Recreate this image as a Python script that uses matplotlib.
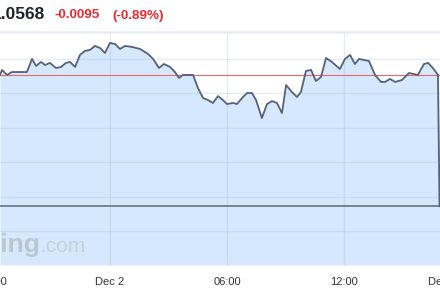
import matplotlib
matplotlib.use('Agg')
import matplotlib.pyplot as plt

plt.rcParams['font.family'] = 'Liberation Sans'

# hours relative to Dec 2 00:00, and price (15-min steps)
hours = [-5.64, -5.54, -5.28, -5.03, -4.26, -4.00, -3.79, -3.54, -3.33, -3.08,
         -2.77, -2.51, -2.26, -2.05, -1.79, -1.54, -1.28, -1.03, -0.77, -0.51,
         -0.26, 0.00, 0.26, 0.51, 0.77, 1.13, 1.54, 1.95, 2.21, 2.51,
         2.77, 3.08, 3.33, 3.54, 3.74, 4.26, 4.51, 4.77, 5.03, 5.28,
         5.54, 5.79, 6.00, 6.31, 6.51, 6.82, 7.03, 7.28, 7.49, 7.79,
         8.05, 8.31, 8.56, 8.82, 9.03, 9.33, 9.59, 9.79, 10.05, 10.31,
         10.56, 10.82, 11.08, 11.38, 11.79, 12.05, 12.31, 12.56, 12.77, 13.28,
         13.59, 13.90, 14.10, 14.36, 14.62, 14.97, 15.33, 15.79, 16.10, 16.31,
         16.56, 16.82, 16.90]
prices = [1.06631, 1.06667, 1.06631, 1.06652, 1.06652, 1.06747, 1.06696, 1.06725, 1.06703, 1.06718,
          1.06681, 1.06689, 1.06718, 1.06725, 1.06689, 1.06776, 1.06805, 1.06812, 1.06841, 1.06826,
          1.06790, 1.06863, 1.06855, 1.06819, 1.06841, 1.06834, 1.06819, 1.06783, 1.06747, 1.06681,
          1.06710, 1.06689, 1.06652, 1.06609, 1.06631, 1.06631, 1.06536, 1.06464, 1.06449, 1.06428,
          1.06478, 1.06449, 1.06420, 1.06428, 1.06420, 1.06471, 1.06500, 1.06500, 1.06449, 1.06319,
          1.06420, 1.06442, 1.06428, 1.06355, 1.06558, 1.06507, 1.06471, 1.06507, 1.06660, 1.06667,
          1.06587, 1.06616, 1.06754, 1.06725, 1.06674, 1.06747, 1.06776, 1.06710, 1.06747, 1.06732,
          1.06631, 1.06580, 1.06580, 1.06602, 1.06580, 1.06594, 1.06645, 1.06631, 1.06710, 1.06718,
          1.06681, 1.06631, 1.05680]

prev_close = 1.0663
last_price = 1.0568
change = '-0.0095'
change_pct = '(-0.89%)'

tick_hours = [-6, 0, 6, 12, 17.05]
tick_labels = ['18:00', 'Dec 2', '06:00', '12:00', 'Dec 3']
grid_levels = [1.0550, 1.0575, 1.0600, 1.0625, 1.0650, 1.0675]

fig = plt.figure(figsize=(4.4, 3.0), dpi=100)
# axes run a bit past the figure edges, like the cropped screenshot
ax = fig.add_axes([-20 / 440, 35 / 300, 480 / 440, 233 / 300])

y_lo, y_hi = 1.05254, 1.06942
ax.set_xlim(-6.667, 17.949)
ax.set_ylim(y_lo, y_hi)

ax.fill_between(hours, prices, y_lo, color='#d6e8fd', lw=0, zorder=1)
ax.plot(hours, prices, color='#56617a', lw=1.3, zorder=3, solid_joinstyle='round')
ax.axhline(prev_close, color='#e46a6a', lw=0.8, zorder=2.5)
ax.axhline(last_price, color='#6e7c8c', lw=1.3, zorder=2.6)

ax.set_xticks(tick_hours)
ax.set_xticklabels(tick_labels)
ax.set_yticks(grid_levels)
ax.set_yticklabels([])
ax.tick_params(length=0, pad=8.5, labelsize=8, labelcolor='#333333')
ax.set_axisbelow('line')
ax.grid(True, color='#a0b4cc', alpha=0.25, lw=1)

for s in ['left', 'right', 'bottom']:
    ax.spines[s].set_visible(False)
ax.spines['top'].set_color('#e8ecf1')
ax.spines['top'].set_linewidth(1.8)

# watermark
fig.text(40 / 440, 1 - 252 / 300, 'Investing', ha='right', va='baseline',
         fontsize=19, fontweight='bold', color='#bcc6d0')
fig.text(40 / 440, 1 - 252 / 300, '.com', ha='left', va='baseline',
         fontsize=15, color='#c6d0da')

# header
fig.text(-8 / 440, 1 - 19 / 300, f'{last_price:.4f}', ha='left', va='baseline',
         fontsize=12.5, fontweight='bold', color='#1e2329')
fig.text(54 / 440, 1 - 18.5 / 300, change, ha='left', va='baseline',
         fontsize=9.7, fontweight='bold', color='#f0282d')
fig.text(112 / 440, 1 - 18.5 / 300, change_pct, ha='left', va='baseline',
         fontsize=9.7, fontweight='bold', color='#f0282d')

fig.savefig('out.png', dpi=100)
